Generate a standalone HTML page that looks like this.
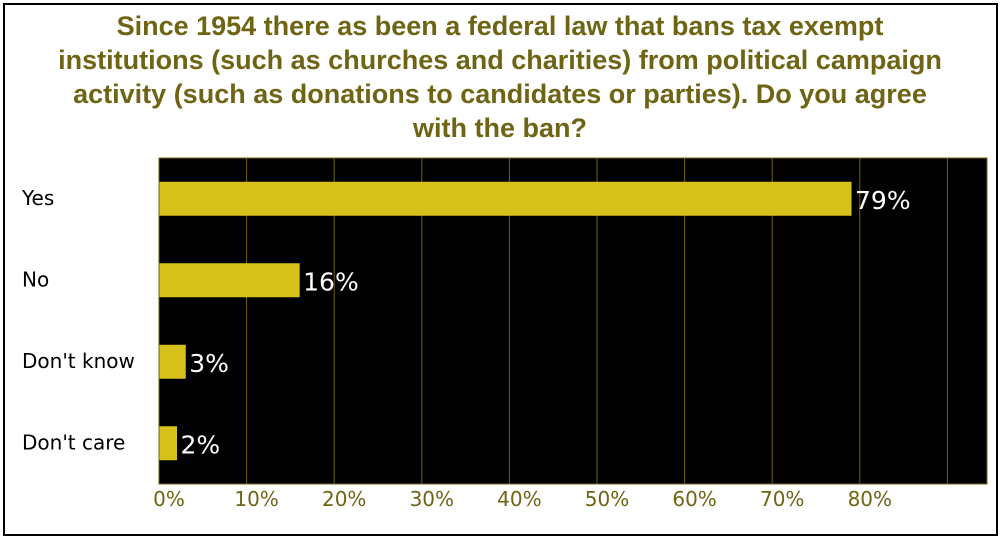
<!DOCTYPE html>
<html><head><meta charset="utf-8"><style>
body{margin:0;background:#fff;}
#wrap{position:relative;width:1000px;height:537px;overflow:hidden;font-family:"Liberation Sans","DejaVu Sans",sans-serif;}
#frame{position:absolute;left:3px;top:3px;width:991px;height:529px;border:2px solid #000;}
#title{position:absolute;left:0;width:1000px;top:9px;text-align:center;color:#6e6414;font-weight:bold;font-size:27px;line-height:34px;white-space:nowrap;font-family:"Liberation Sans","DejaVu Sans",sans-serif;}
</style></head><body>
<div id="wrap">
<div id="frame"></div>
<div id="title">Since 1954 there as been a federal law that bans tax exempt<br>institutions (such as churches and charities) from political campaign<br>activity (such as donations to candidates or parties). Do you agree<br>with the ban?</div>
<svg id="svg" width="1000" height="537" style="position:absolute;left:0;top:0"></svg>
</div>
<script>
const categories=["Yes","No","Don't know","Don't care"];
const values=[79,16,3,2];
const ticks=[0,10,20,30,40,50,60,70,80];
const tickLabels=["0%","10%","20%","30%","40%","50%","60%","70%","80%"];
const L=159,R=987,T=158,B=484,PX=8.76;
const x=v=>L+v*PX;
const band=(B-T)/categories.length;
const y=i=>T+band*i+band/2;
const svg=document.getElementById('svg');
const NS='http://www.w3.org/2000/svg';
function mk(t,a){const e=document.createElementNS(NS,t);for(const k in a)e.setAttribute(k,a[k]);svg.appendChild(e);return e;}
const bg=mk('rect',{x:L,y:T,width:R-L,height:B-T,fill:'#000',stroke:'#6e6414','stroke-width':1});


for(let v=10;x(v)<R-2;v+=10){
 const g=mk('line',{x1:x(v),x2:x(v),y1:T,y2:B,stroke:'#6e6414','stroke-width':1});
 
 
}
ticks.forEach((t,i)=>{
 const e=mk('text',{x:x(t)+10,y:506,'text-anchor':'middle',fill:'#6e6414','font-size':20,'font-family':'DejaVu Sans,Liberation Sans,sans-serif'});
 e.textContent=tickLabels[i];
 
 
});
categories.forEach((c,i)=>{
 const l=mk('text',{x:22,y:y(i)+6,fill:'#000','font-size':20,'font-family':'DejaVu Sans,Liberation Sans,sans-serif'});
 l.textContent=c;
 
 
 const b=mk('rect',{x:L+0.5,y:y(i)-17,width:values[i]*PX,height:34,fill:'#d6c01a'});
 
 
 const v=mk('text',{x:x(values[i])+4,y:y(i)+10,fill:'#fff','font-size':25,'font-family':'DejaVu Sans,Liberation Sans,sans-serif'});
 v.textContent=values[i]+'%';
 
 
});
</script>
</body></html>
